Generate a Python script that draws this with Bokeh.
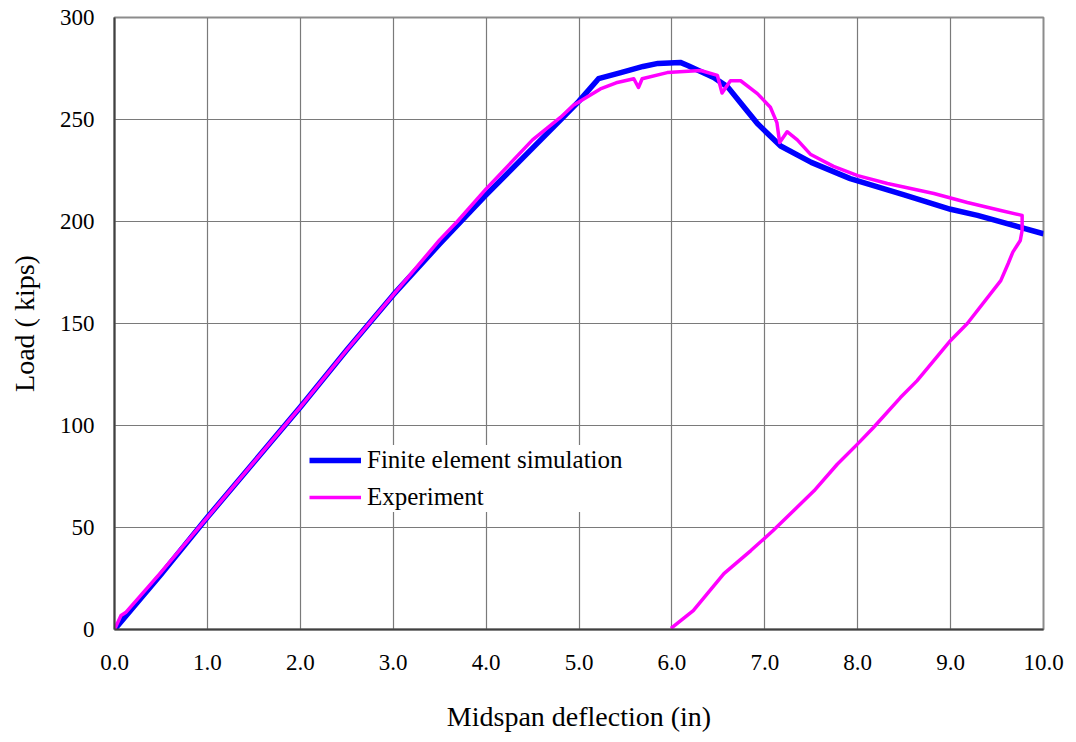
from bokeh.plotting import figure
from bokeh.models import FixedTicker, NumeralTickFormatter, Legend, LegendItem, Range1d
from bokeh.embed import file_html
from bokeh.resources import INLINE

# Finite element simulation
fe_x = [0.0, 0.5, 1.0, 1.5, 2.0, 2.5, 3.0, 3.5, 4.0, 4.5, 4.85, 5.0, 5.21,
        5.45, 5.69, 5.85, 6.09, 6.17, 6.45, 6.6, 6.76, 6.92, 7.17, 7.5, 7.92,
        8.5, 9.0, 9.29, 10.0]
fe_y = [0, 27, 55, 82, 109, 137, 164, 189, 213, 236, 252, 259, 270,
        273, 276, 277.5, 278, 276.5, 270.6, 266, 257, 248, 237, 229, 221,
        213, 206, 203, 194]

# Experiment
ex_x = [0.0, 0.07, 0.12, 0.5, 1.0, 1.5, 2.0, 2.5, 3.0, 3.5, 3.69, 4.0, 4.5,
        4.8, 4.94, 5.23, 5.4, 5.59, 5.64, 5.68, 5.95, 6.31, 6.49, 6.54, 6.63,
        6.74, 6.92, 7.06, 7.13, 7.16, 7.24, 7.35, 7.49, 7.74, 8.0, 8.32,
        8.82, 9.18, 9.54, 9.77, 9.77, 9.75, 9.67, 9.62, 9.54, 9.18, 9.0,
        8.64, 8.46, 8.17, 8.0, 7.78, 7.53, 7.09, 6.85, 6.56, 6.23, 5.99]
ex_y = [0, 6.9, 8.3, 28, 55, 82, 109, 137, 164, 191, 200, 216, 240,
        251, 257, 265, 268, 270, 265.7, 270, 273, 274, 271.6, 263, 269,
        269, 262.7, 256, 248.5, 238.7, 244, 240, 233, 227, 222.5, 218.6,
        213.7, 209.3, 205.4, 203, 195.6, 190.7, 185, 179.4, 171, 150, 141.7,
        122, 113.7, 99, 91, 81, 68, 48.5, 38.7, 27.4, 9.3, 0.5]

x_ticks = [0, 1, 2, 3, 4, 5, 6, 7, 8, 9, 10]
y_ticks = [0, 50, 100, 150, 200, 250, 300]

FONT = "Liberation Serif"

p = figure(width=1076, height=742, output_backend="svg", toolbar_location=None,
           x_range=Range1d(0, 10), y_range=Range1d(0, 300),
           min_border_left=114, min_border_right=33, min_border_top=17,
           min_border_bottom=113)

p.background_fill_color = "white"
p.border_fill_color = "white"
p.outline_line_color = "#8c8c8c"
p.outline_line_width = 2

for g in (p.xgrid, p.ygrid):
    g.grid_line_color = "#7a7a7a"
    g.grid_line_width = 1.2
p.xgrid.ticker = FixedTicker(ticks=x_ticks)
p.ygrid.ticker = FixedTicker(ticks=y_ticks)

p.xaxis.ticker = FixedTicker(ticks=x_ticks)
p.yaxis.ticker = FixedTicker(ticks=y_ticks)
p.xaxis.formatter = NumeralTickFormatter(format="0.0")
p.yaxis.formatter = NumeralTickFormatter(format="0")

for ax in (p.xaxis, p.yaxis):
    ax.axis_line_color = "#404040"
    ax.axis_line_width = 2
    ax.major_tick_out = 0
    ax.major_tick_in = 0
    ax.minor_tick_out = 0
    ax.minor_tick_in = 0
    ax.major_label_text_font = FONT
    ax.major_label_text_font_size = "23px"
    ax.major_label_text_color = "black"
    ax.axis_label_text_font = FONT
    ax.axis_label_text_font_size = "28px"
    ax.axis_label_text_font_style = "normal"
    ax.axis_label_text_color = "black"

p.xaxis.axis_label = "Midspan deflection (in)"
p.yaxis.axis_label = "Load ( kips)"
p.xaxis.major_label_standoff = 25
p.xaxis.axis_label_standoff = 28
p.yaxis.major_label_standoff = 20
p.yaxis.axis_label_standoff = 17

r_fe = p.line(fe_x, fe_y, line_color="#0000FF", line_width=5.5, line_join="round")
r_ex = p.line(ex_x, ex_y, line_color="#FF00FF", line_width=3.5, line_join="round")

legend = Legend(items=[LegendItem(label="Finite element simulation", renderers=[r_fe]),
                       LegendItem(label="Experiment", renderers=[r_ex])],
                location=(195, 117))
legend.background_fill_color = "white"
legend.background_fill_alpha = 1.0
legend.border_line_color = None
legend.label_text_font = FONT
legend.label_text_font_size = "25px"
legend.label_text_color = "black"
legend.glyph_width = 52
legend.glyph_height = 30
legend.label_height = 30
legend.label_standoff = 6
legend.padding = 8
legend.spacing = 7
legend.margin = 0
p.add_layout(legend, "center")

open("out.html", "w").write(file_html(p, INLINE))
